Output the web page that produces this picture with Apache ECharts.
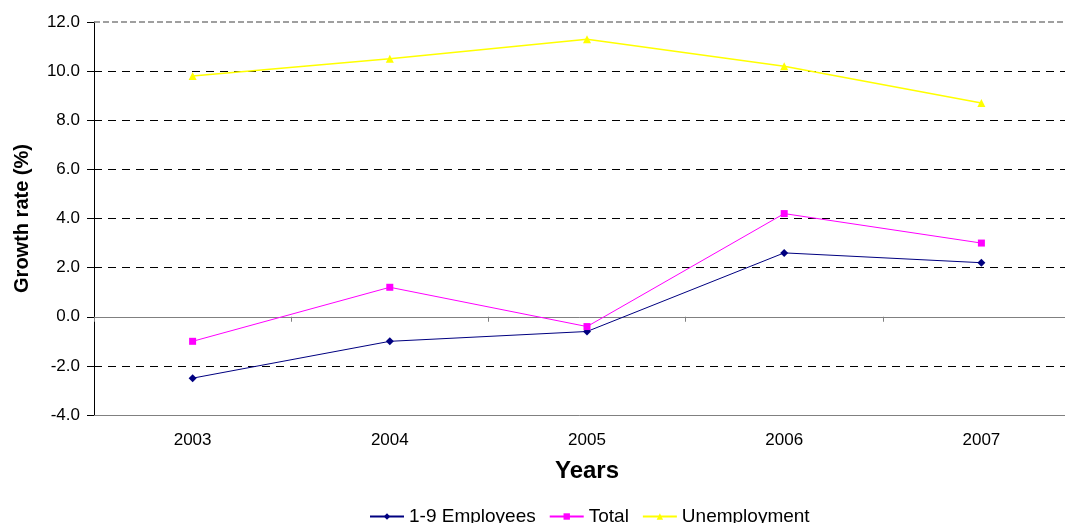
<!DOCTYPE html>
<html>
<head>
<meta charset="utf-8">
<script src="https://cdn.jsdelivr.net/npm/echarts@6/dist/echarts.min.js"></script>
<style>
html,body{margin:0;padding:0;background:#fff;}
#chart{width:1065px;height:523px;}
</style>
</head>
<body>
<div id="chart"></div>
<script>
const years = ['2003', '2004', '2005', '2006', '2007'];
const employees19 = [-2.5, -1.0, -0.6, 2.6, 2.2];
const total = [-1.0, 1.2, -0.4, 4.2, 3.0];
const unemployment = [9.8, 10.5, 11.3, 10.2, 8.7];
const yMin = -4, yMax = 12, yStep = 2;

const chart = echarts.init(document.getElementById('chart'), null, {renderer: 'canvas'});
const font = 'Liberation Sans, Arial, sans-serif';
chart.setOption({
  animation: false,
  backgroundColor: '#fff',
  textStyle: {fontFamily: font},
  grid: {left: 94, width: 986, top: 22, height: 393, containLabel: false, outerBoundsMode: 'none'},
  legend: {
    left: 364, top: 502,
    itemWidth: 34, itemHeight: 8, itemGap: 13,
    textStyle: {fontSize: 19, color: '#000', fontFamily: font},
    data: ['1-9 Employees', 'Total', 'Unemployment']
  },
  xAxis: [{
    type: 'category', data: years, position: 'bottom',
    axisLine: {onZero: false, lineStyle: {color: '#808080', width: 1}},
    axisTick: {show: false},
    axisLabel: {fontSize: 17, color: '#000', margin: 17, fontFamily: font},
    name: 'Years', nameLocation: 'middle', nameGap: 44,
    nameTextStyle: {fontSize: 24, fontWeight: 'bold', color: '#000', fontFamily: font},
    splitLine: {show: false}
  }, {
    type: 'category', data: years, position: 'top',
    axisLine: {onZero: true, lineStyle: {color: '#808080', width: 1}},
    axisTick: {show: true, inside: true, length: 5, lineStyle: {color: '#808080'}},
    axisLabel: {show: false},
    splitLine: {show: false}
  }],
  yAxis: {
    type: 'value', min: yMin, max: yMax, interval: yStep,
    axisLine: {show: true, lineStyle: {color: '#000', width: 1}},
    axisTick: {show: true, length: 7, lineStyle: {color: '#000'}},
    axisLabel: {fontSize: 17, color: '#000', margin: 14, fontFamily: font,
      formatter: v => v.toFixed(1)},
    splitLine: {show: true, showMinLine: false, showMaxLine: false,
      lineStyle: {type: [8, 6], width: 1, color: '#000'}},
    name: 'Growth rate (%)', nameLocation: 'middle', nameGap: 62, nameRotate: 90,
    nameTextStyle: {fontSize: 20, fontWeight: 'bold', color: '#000', fontFamily: font}
  },
  series: [{
    name: '1-9 Employees', type: 'line', data: employees19, xAxisIndex: 0,
    symbol: 'diamond', symbolSize: 8,
    lineStyle: {color: '#000080', width: 1}, itemStyle: {color: '#000080'},
    markLine: {
      silent: true, symbol: 'none', label: {show: false},
      lineStyle: {color: '#808080', type: [6, 3], width: 1.5},
      data: [{yAxis: yMax}]
    }
  }, {
    name: 'Total', type: 'line', data: total, xAxisIndex: 0,
    symbol: 'rect', symbolSize: 7,
    lineStyle: {color: '#FF00FF', width: 1}, itemStyle: {color: '#FF00FF'}
  }, {
    name: 'Unemployment', type: 'line', data: unemployment, xAxisIndex: 0,
    symbol: 'triangle', symbolSize: 8,
    lineStyle: {color: '#FFFF00', width: 1.5}, itemStyle: {color: '#FFFF00'}
  }]
});
</script>
</body>
</html>
